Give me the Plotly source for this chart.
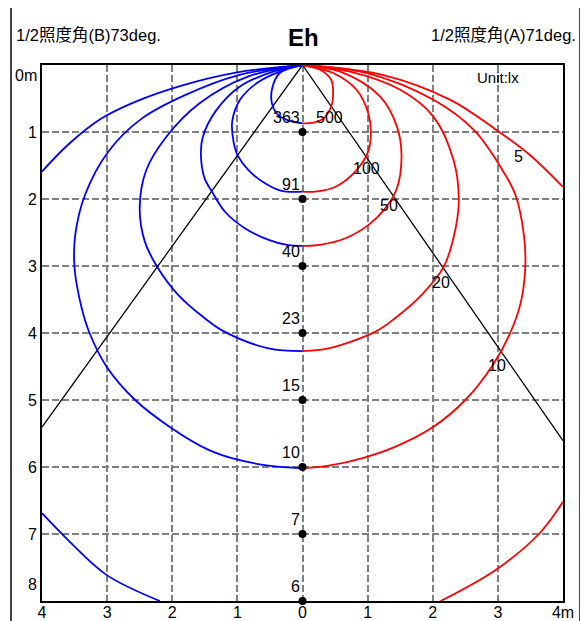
import numpy as np
import plotly.graph_objects as go

# ---------------- data ----------------
beam_angle_B = 73   # deg (left side)
beam_angle_A = 71   # deg (right side)

depth_ticks = [0, 1, 2, 3, 4, 5, 6, 7, 8]
depth_ticktext = ["0m", "1", "2", "3", "4", "5", "6", "7", "8"]
width_ticks = [-4, -3, -2, -1, 0, 1, 2, 3, 4]
width_ticktext = ["4", "3", "2", "1", "0", "1", "2", "3", "4m"]

center_depths = [1, 2, 3, 4, 5, 6, 7, 8]
center_lux = [363, 91, 40, 23, 15, 10, 7, 6]

levels = [500, 100, 50, 20, 10, 5]

# side B (left, blue) iso-lux curves: (x, depth)
B500 = [(0, 0), (-0.35, 0.12), (-0.47, 0.37), (-0.47, 0.57), (-0.40, 0.72), (-0.24, 0.82), (0, 0.87)]
B100 = [(0, 0), (-0.35, 0.10), (-0.70, 0.27), (-0.96, 0.52), (-1.08, 0.85), (-1.06, 1.14), (-1.00, 1.34),
        (-0.83, 1.57), (-0.57, 1.77), (-0.32, 1.88), (0, 1.89)]
B50 = [(0, 0), (-0.45, 0.10), (-0.96, 0.32), (-1.32, 0.67), (-1.53, 1.07), (-1.56, 1.35), (-1.50, 1.70),
       (-1.39, 1.89), (-1.19, 2.19), (-0.88, 2.44), (-0.52, 2.61), (-0.22, 2.69), (0, 2.70)]
B20 = [(0, 0), (-0.83, 0.17), (-1.58, 0.57), (-2.09, 1.07), (-2.40, 1.57), (-2.50, 2.14), (-2.42, 2.64),
       (-2.22, 3.03), (-1.91, 3.43), (-1.50, 3.78), (-1.20, 3.98), (-0.52, 4.23), (0, 4.27)]
B10 = [(0, 0), (-0.98, 0.15), (-1.83, 0.46), (-2.47, 0.80), (-2.98, 1.29), (-3.34, 1.94), (-3.49, 2.54),
       (-3.50, 3.03), (-3.39, 3.63), (-3.27, 4.00), (-3.01, 4.50), (-2.57, 5.00), (-2.01, 5.42),
       (-1.45, 5.74), (-1.04, 5.88), (-0.52, 5.98), (0, 6.02)]
B5_top = [(0, 0), (-1.0, 0.11), (-1.83, 0.30), (-2.57, 0.55), (-3.09, 0.80), (-3.60, 1.19), (-4.0, 1.59)]
B5_bottom = [(-4.0, 6.69), (-3.60, 7.09), (-3.01, 7.61), (-2.19, 8.0)]

# side A (right, red) iso-lux curves
R500 = [(0, 0), (0.27, 0.07), (0.44, 0.22), (0.47, 0.42), (0.44, 0.62), (0.32, 0.80), (0.17, 0.86), (0, 0.87)]
R100 = [(0, 0), (0.47, 0.12), (0.83, 0.37), (1.01, 0.72), (1.05, 1.00), (1.01, 1.29), (0.81, 1.59),
        (0.50, 1.82), (0.19, 1.89), (0, 1.89)]
R50 = [(0, 0), (0.58, 0.10), (1.19, 0.47), (1.45, 0.92), (1.52, 1.34), (1.45, 1.84), (1.27, 2.14),
       (1.01, 2.39), (0.65, 2.59), (0.29, 2.68), (0, 2.70)]
R20 = [(0, 0), (0.73, 0.10), (1.50, 0.37), (2.01, 0.77), (2.32, 1.42), (2.40, 1.99), (2.35, 2.44),
       (2.17, 3.01), (1.83, 3.43), (1.42, 3.78), (1.12, 3.98), (0.40, 4.23), (0, 4.27)]
R10 = [(0, 0), (0.99, 0.12), (2.01, 0.52), (2.63, 0.97), (3.04, 1.52), (3.27, 1.94), (3.40, 2.54),
       (3.42, 3.03), (3.35, 3.55), (3.18, 4.02), (2.92, 4.48), (2.50, 5.00), (2.01, 5.40), (1.42, 5.70),
       (0.91, 5.87), (0.40, 5.98), (0, 6.02)]
R5_top = [(0, 0), (1.24, 0.15), (2.27, 0.52), (2.95, 0.95), (3.50, 1.35), (4.0, 1.82)]
R5_bottom = [(4.0, 6.52), (3.63, 7.00), (2.96, 7.54), (2.12, 8.0)]

level_label_text = ["500", "100", "50", "20", "10", "5"]
level_label_pos = [(0.42, 0.78), (0.98, 1.54), (1.33, 2.09), (2.12, 3.24), (2.99, 4.49), (3.32, 1.37)]

# ---------------- figure ----------------
FONT = "Liberation Sans, Arial, Noto Sans CJK JP, sans-serif"
fig = go.Figure()

# beam half-angle lines
for ang, sgn in [(beam_angle_B, -1), (beam_angle_A, 1)]:
    half = np.radians(ang / 2)
    xe = 4 * sgn
    ye = 4 / np.tan(half)
    fig.add_trace(go.Scatter(x=[0, xe], y=[0, ye], mode="lines",
                             line=dict(color="black", width=1.3), hoverinfo="skip"))

def add_curve(pts, color):
    xs = [p[0] for p in pts]
    ys = [p[1] for p in pts]
    fig.add_trace(go.Scatter(x=xs, y=ys, mode="lines",
                             line=dict(color=color, width=1.8, shape="spline", smoothing=1.0),
                             hoverinfo="skip"))

for c in [B500, B100, B50, B20, B10, B5_top, B5_bottom]:
    add_curve(c, "#0000FF")
for c in [R500, R100, R50, R20, R10, R5_top, R5_bottom]:
    add_curve(c, "#FF0000")

fig.add_trace(go.Scatter(x=[0] * len(center_depths), y=center_depths, mode="markers",
                         marker=dict(color="black", size=8), cliponaxis=False, hoverinfo="skip"))

ann = []
for d, v in zip(center_depths, center_lux):
    ann.append(dict(x=0, y=d, text=str(v), showarrow=False, xanchor="right", yanchor="middle",
                    xshift=-1, yshift=15, font=dict(size=16, color="black", family=FONT)))
for t, (lx, ly) in zip(level_label_text, level_label_pos):
    ann.append(dict(x=lx, y=ly, text=t, showarrow=False, xanchor="center", yanchor="middle",
                    font=dict(size=16, color="black", family=FONT)))
for i, (v, t) in enumerate(zip(depth_ticks, depth_ticktext)):
    ys = 0
    if i == 0:
        ys = -10
    elif i == len(depth_ticks) - 1:
        ys = 17
    ann.append(dict(x=0, xref="paper", y=v, yref="y", text=t, showarrow=False, xanchor="right",
                    yanchor="middle", xshift=-3, yshift=ys, font=dict(size=16, color="black", family=FONT)))

ann.append(dict(x=3.0, y=0.18, text="Unit:lx", showarrow=False, xanchor="center", yanchor="middle",
                font=dict(size=15, color="black", family=FONT)))
ann.append(dict(x=0.501, y=1.052, xref="paper", yref="paper", text="<b>Eh</b>", showarrow=False,
                xanchor="center", yanchor="middle", font=dict(size=24, color="black", family=FONT)))
ann.append(dict(x=-0.0537, y=1.056, xref="paper", yref="paper", text=f"1/2照度角(B){beam_angle_B}deg.",
                showarrow=False, xanchor="left", yanchor="middle", font=dict(size=16.5, color="black", family=FONT)))
ann.append(dict(x=1.0288, y=1.056, xref="paper", yref="paper", text=f"1/2照度角(A){beam_angle_A}deg.",
                showarrow=False, xanchor="right", yanchor="middle", font=dict(size=16.5, color="black", family=FONT)))

# the page body has an 8px margin, so the figure is 8px smaller and margins compensate
fig.update_layout(
    width=580, height=613,
    margin=dict(l=34, r=25, t=57, b=20),
    paper_bgcolor="white", plot_bgcolor="white",
    showlegend=False,
    annotations=ann,
    font=dict(family=FONT, size=16, color="black"),
    shapes=[dict(type="rect", xref="paper", yref="paper", x0=-0.0595, x1=1.0326, y0=-0.1, y1=1.112,
                 line=dict(color="#444444", width=2), layer="below")],
)
fig.update_xaxes(range=[-4, 4], tickvals=width_ticks, ticktext=width_ticktext, ticks="",
                 showgrid=True, gridcolor="#808080", gridwidth=1.5, griddash="7px,3px",
                 zeroline=False, showline=True, mirror=True, linecolor="black", linewidth=2,
                 tickfont=dict(size=16, family=FONT, color="black"), ticklabelstandoff=-4,
                 automargin=False)
fig.update_yaxes(range=[8, 0], tickvals=depth_ticks, showticklabels=False, ticks="",
                 showgrid=True, gridcolor="#808080", gridwidth=1.5, griddash="7px,3px",
                 zeroline=False, showline=True, mirror=True, linecolor="black", linewidth=2,
                 automargin=False)

fig.write_html("out.html")
